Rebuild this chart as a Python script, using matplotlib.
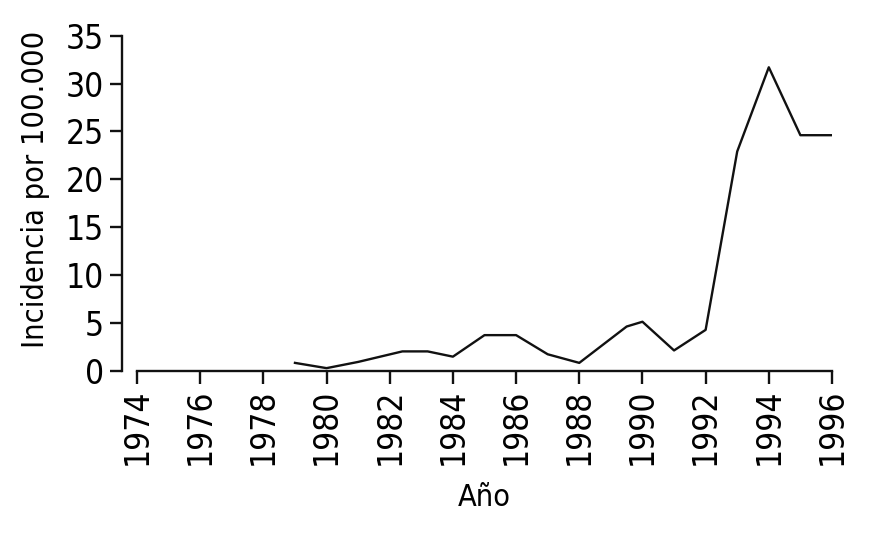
import matplotlib
matplotlib.use("Agg")
import matplotlib.pyplot as plt

# Incidencia anual (por 100.000)
anios = [1979, 1980, 1981, 1982.4, 1983.2, 1984, 1985, 1986, 1987, 1988,
         1989.5, 1990, 1991, 1992, 1993, 1994, 1995, 1996]
incidencia = [0.8, 0.25, 0.9, 2.0, 2.0, 1.45, 3.7, 3.7, 1.7, 0.8,
              4.6, 5.1, 2.1, 4.25, 22.9, 31.7, 24.6, 24.6]

xticks = list(range(1974, 1997, 2))
yticks = list(range(0, 36, 5))

# Fuente condensada (DejaVu Sans Condensed)
plt.rcParams['font.family'] = ['DejaVu Sans']
plt.rcParams['font.stretch'] = 'condensed'

fig = plt.figure(figsize=(8.7, 5.37), dpi=100)
ax = fig.add_axes([0.1575, 0.31, 0.7988, 0.6235])

# Bordes: eje Y separado del eje X
ax.spines['top'].set_visible(False)
ax.spines['right'].set_visible(False)
ax.spines['left'].set_position(('outward', 11))
for s in ('left', 'bottom'):
    ax.spines[s].set_linewidth(1.7)
    ax.spines[s].set_color("#111111")

ax.plot(anios, incidencia, color="#111111", linewidth=1.7)

ax.set_xlim(1974, 1996)
ax.set_ylim(0, 35)
ax.set_xticks(xticks)
ax.set_yticks(yticks)
ax.set_xticklabels([str(a) for a in xticks], rotation=90, fontsize=24)
ax.set_yticklabels([str(v) for v in yticks], fontsize=24)
ax.tick_params(axis='both', length=9, width=1.7, color="#111111", pad=4)

ax.set_ylabel("Incidencia por 100.000", fontsize=22)
ax.yaxis.set_label_coords(-0.125, 0.54)
ax.set_xlabel("Año", fontsize=22)
ax.xaxis.set_label_coords(0.5, -0.336)
ax.xaxis.label.set_va('top')

fig.savefig("out.png", dpi=100)
